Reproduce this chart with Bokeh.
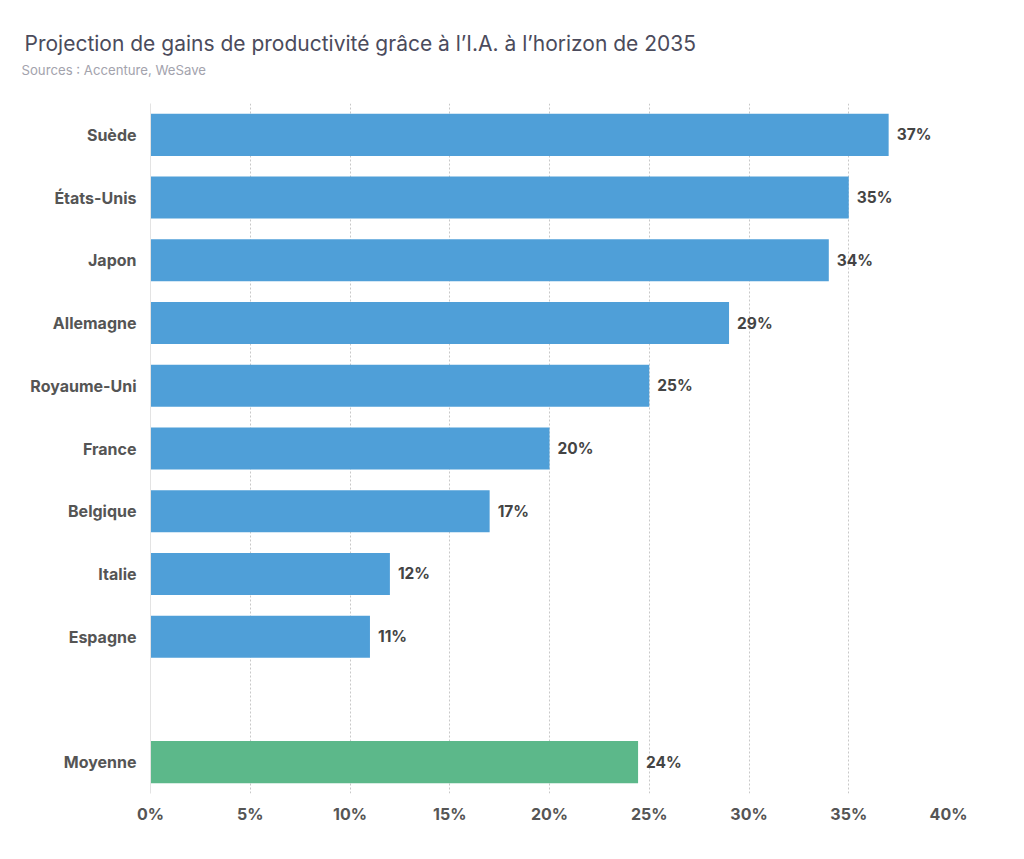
from bokeh.plotting import figure
from bokeh.models import ColumnDataSource, FixedTicker, PrintfTickFormatter, Title, FactorRange, Range1d
from bokeh.core.properties import value
from bokeh.embed import file_html
from bokeh.resources import INLINE

# ---- data ----
countries = ["Suède", "États-Unis", "Japon", "Allemagne", "Royaume-Uni",
             "France", "Belgique", "Italie", "Espagne"]
gains = [37, 35, 34, 29, 25, 20, 17, 12, 11]
avg_label = "Moyenne"
avg_value = 24.44
avg_text = "24%"
x_ticks = [0, 5, 10, 15, 20, 25, 30, 35, 40]

title_text = "Projection de gains de productivité grâce à l’I.A. à l’horizon de 2035"
subtitle_text = "Sources : Accenture, WeSave"

FONT = "Inter"
BLUE = "#4f9fd8"
GREEN = "#5cb88a"

# bottom-to-top factor order, with an empty slot before the average
factors = [avg_label, " "] + countries[::-1]

p = figure(width=1016, height=851, output_backend="svg", toolbar_location=None,
           y_range=FactorRange(factors=factors, range_padding=0),
           x_range=Range1d(0, 40), title=None,
           min_border_left=150, min_border_right=68, min_border_bottom=58, min_border_top=103)

src = ColumnDataSource(dict(y=countries, v=gains, t=[f"{g}%" for g in gains]))
p.hbar(y="y", right="v", left=0, height=0.67, source=src, fill_color=BLUE, line_color=None)
p.text(x="v", y="y", text="t", source=src, x_offset=8, text_baseline="middle",
       text_font=value(FONT), text_font_style="bold", text_font_size="15.5px", text_color="#444444")

src2 = ColumnDataSource(dict(y=[avg_label], v=[avg_value], t=[avg_text]))
p.hbar(y="y", right="v", left=0, height=0.67, source=src2, fill_color=GREEN, line_color=None)
p.text(x="v", y="y", text="t", source=src2, x_offset=8, text_baseline="middle",
       text_font=value(FONT), text_font_style="bold", text_font_size="15.5px", text_color="#444444")

# axes
p.xaxis.ticker = FixedTicker(ticks=x_ticks)
p.xaxis.formatter = PrintfTickFormatter(format="%d%%")
p.xaxis.axis_line_color = None
p.xaxis.major_tick_line_color = None
p.xaxis.minor_tick_line_color = None
p.xaxis.major_label_standoff = 4
p.xaxis.major_label_text_font = FONT
p.xaxis.major_label_text_font_style = "bold"
p.xaxis.major_label_text_font_size = "16px"
p.xaxis.major_label_text_color = "#555555"

p.yaxis.axis_line_color = "#e3e3e3"
p.yaxis.major_tick_line_color = None
p.yaxis.minor_tick_line_color = None
p.yaxis.major_label_standoff = 8
p.yaxis.major_label_text_font = FONT
p.yaxis.major_label_text_font_style = "bold"
p.yaxis.major_label_text_font_size = "16px"
p.yaxis.major_label_text_color = "#555555"

p.ygrid.grid_line_color = None
p.xgrid.ticker = FixedTicker(ticks=x_ticks[1:])
p.xgrid.grid_line_color = "#c8c8c8"
p.xgrid.grid_line_dash = "2 2"
p.outline_line_color = None
p.background_fill_color = "white"
p.border_fill_color = "white"

# titles (first added sits closest to the plot)
p.add_layout(Title(text=subtitle_text, text_font=FONT, text_font_size="13.2px",
                   text_font_style="normal", text_color="#a3a3ad", align="left",
                   offset=-129, standoff=51), "above")
p.add_layout(Title(text=title_text, text_font=FONT, text_font_size="21px",
                   text_font_style="normal", text_color="#4b4b5c", align="left",
                   offset=-126, standoff=-42), "above")

open("out.html", "w").write(file_html(p, INLINE))
